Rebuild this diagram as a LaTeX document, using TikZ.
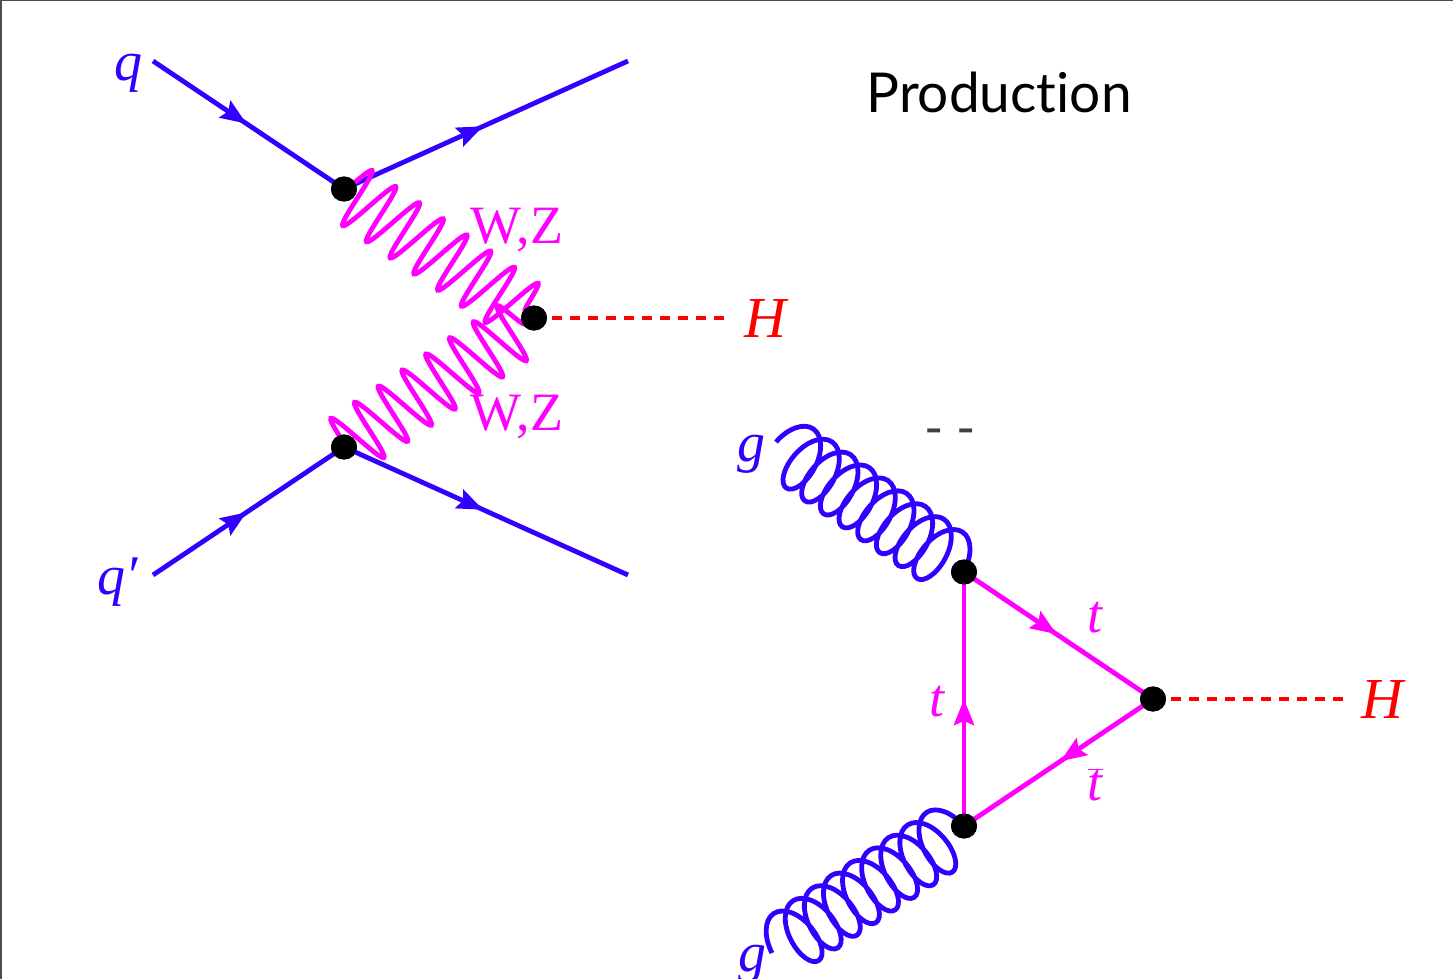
\documentclass[tikz,border=0pt]{standalone}
\usepackage{fontspec}
\setmainfont{Liberation Serif}
\newfontfamily\titlefont[Ligatures=CommonOff]{Lato}
\usetikzlibrary{arrows.meta,shapes.geometric,decorations.markings,decorations.pathmorphing}
\definecolor{quarkblue}{HTML}{3300FF}
\definecolor{bosonpink}{HTML}{FF00FF}
\begin{document}
\begin{tikzpicture}[
    x=1pt, y=-1pt,
    line width=4.8pt,
    arrowat/.style={postaction={decorate}, decoration={markings,
        mark=at position #1 with {\arrow{Stealth[length=26pt,width=20pt,inset=4pt]}}}},
    vertex/.style={ellipse, fill=black, minimum width=26pt, minimum height=25pt, inner sep=0pt},
    wave/.style={draw=bosonpink, line width=4.8pt, decorate,
        decoration={snake, amplitude=31pt, segment length=28.7pt, pre length=0pt, post length=0pt,
        transform={xslant=#1}}},
    gluon/.style={draw=quarkblue, decorate,
        decoration={coil, amplitude=32pt, segment length=#1, aspect=0.55}},
    higgs/.style={draw=red, dash pattern=on 10pt off 8pt},
    lbl/.style={font=\fontsize{#1}{#1}\selectfont\itshape},
    wzlbl/.style={font=\fontsize{54}{54}\selectfont, text=bosonpink}
]
\useasboundingbox (0,0) rectangle (1453,979);
\draw[black!70, line width=2pt] (1,979) -- (1,0.5) -- (1453,0.5);

% quark lines
\node[vertex] (top) at (344,189) {};
\node[vertex] (bot) at (344,447) {};
\node[vertex] (mid) at (534,318) {};
\coordinate (qin) at (153,61);
\coordinate (qout) at (628,61);
\coordinate (qpin) at (153,575);
\coordinate (qpout) at (628,575);
\coordinate (hleft) at (725,318);
\draw[quarkblue, arrowat=0.49] (qin) -- (top.center);
\draw[quarkblue, arrowat=0.49] (top.center) -- (qout);
\draw[quarkblue, arrowat=0.49] (qpin) -- (bot.center);
\draw[quarkblue, arrowat=0.49] (bot.center) -- (qpout);
\path[wave=0.12] (top.center) -- (mid.center);
\path[wave=-0.12] (bot.center) -- (mid.center);
\draw[higgs] (mid.center) -- (hleft);
\node[vertex] at (top) {};
\node[vertex] at (bot) {};
\node[vertex] at (mid) {};

% triangle
\node[vertex] (tl) at (964,572) {};
\node[vertex] (tr) at (1153,699) {};
\node[vertex] (bl) at (964,826) {};
\coordinate (gin) at (776,442);
\coordinate (gpin) at (772,953);
\coordinate (hright) at (1343,699);
\path[gluon=22.7pt] (gin) -- (tl.center);
\path[gluon=22.9pt] (gpin) -- (bl.center);
\draw[bosonpink, arrowat=0.49] (tl.center) -- (tr.center);
\draw[bosonpink, arrowat=0.49] (tr.center) -- (bl.center);
\draw[bosonpink, arrowat=0.5] (bl.center) -- (tl.center);
\draw[higgs] (tr.center) -- (hright);
\node[vertex] at (tl) {};
\node[vertex] at (tr) {};
\node[vertex] at (bl) {};

% labels
\node[lbl=56, text=quarkblue] (qlab) at (128,73) {q};
\node[lbl=56, text=quarkblue] (qplab) at (118,582) {q′};
\node[wzlbl] (wztop) at (517,230) {W,Z};
\node[wzlbl] (wzbot) at (517,417) {W,Z};
\node[lbl=58, text=red] (hone) at (765,319) {H};
\node[lbl=58, text=red] (htwo) at (1382,700) {H};
\node[lbl=56, text=quarkblue] (gone) at (751,454) {g};
\node[lbl=56, text=quarkblue] (gtwo) at (752,964) {g};
\node[lbl=54, text=bosonpink] (tone) at (1095,618) {t};
\node[lbl=54, text=bosonpink] (ttwo) at (937,702) {t};
\node[lbl=54, text=bosonpink] (tbar) at (1095,785) {$\overline{\mbox{t}}$};
\node[font=\titlefont\fontsize{55}{55}\selectfont] (prod) at (999,92) {Production};
\node[font=\titlefont\fontsize{52}{52}\selectfont, text=black!75] (dashes) at (950,438) {- -};
\end{tikzpicture}
\end{document}
